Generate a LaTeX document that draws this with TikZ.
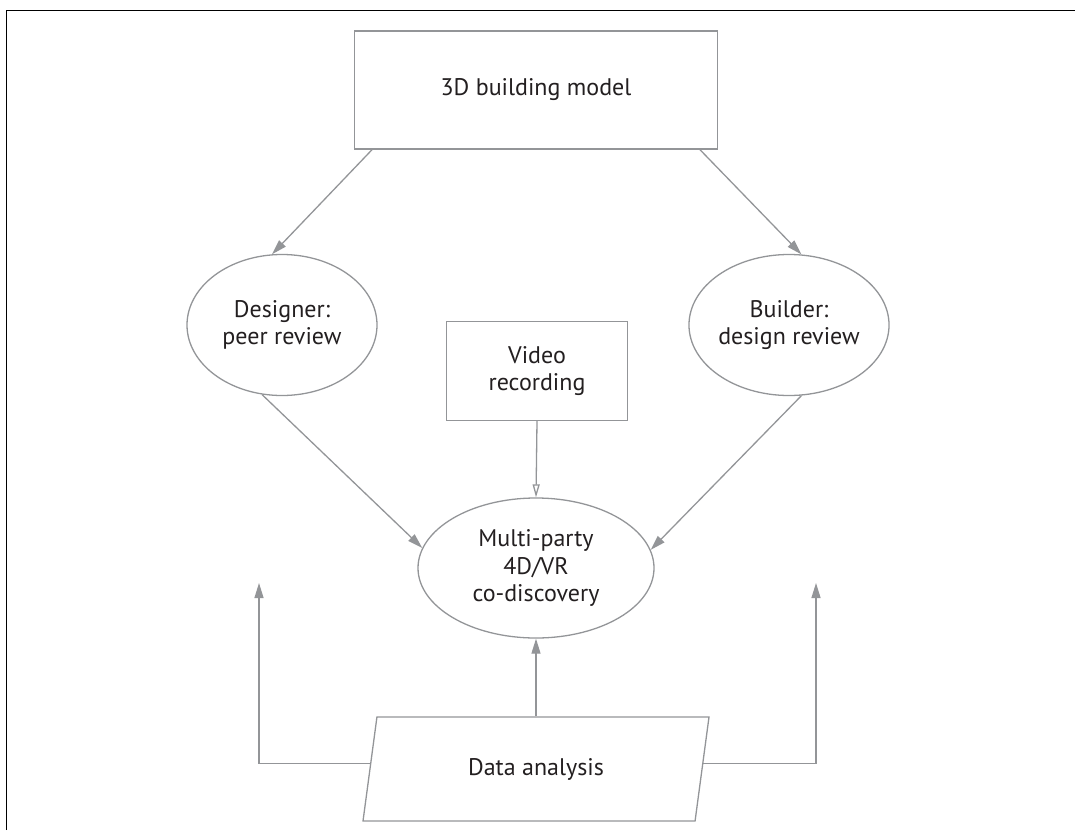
\documentclass[tikz,border=0pt]{standalone}
\usepackage{fontspec}
\setmainfont{PT Sans}
\usepackage{tikz}
\usepackage{xcolor}
\usetikzlibrary{shapes.geometric, positioning, arrows.meta}

\definecolor{linegray}{RGB}{147,149,152}
\definecolor{textdark}{RGB}{35,31,32}

\tikzset{
  box/.style={draw=linegray, line width=1.3pt, rectangle, align=center, text=textdark,
    font=\fontsize{24pt}{27.5pt}\selectfont},
  oval/.style={draw=linegray, line width=1.3pt, ellipse, inner sep=0pt, align=center,
    text=textdark, font=\fontsize{24pt}{27.5pt}\selectfont},
  slanted/.style={draw=linegray, line width=1.3pt, trapezium, trapezium left angle=64,
    trapezium right angle=116, trapezium stretches body, align=center, text=textdark,
    font=\fontsize{24pt}{27.5pt}\selectfont},
  flow/.style={draw=linegray, line width=1.3pt, -{Triangle[length=15pt,width=9pt]}},
  openflow/.style={draw=linegray, line width=1.3pt, -{Triangle[open,length=13pt,width=7pt]}}
}

\begin{document}
\begin{tikzpicture}[x=1pt, y=-1pt]
\useasboundingbox (0,0) rectangle (1075,830);
\draw[black, line width=1pt] (6,830) -- (6,10) -- (1075,10); % frame

\node[box, minimum width=363pt, minimum height=118pt] (model) at (536,90) {3D building model};
\node[oval, minimum width=190pt, minimum height=141pt] (designer) at (282,325) {Designer:\\peer review};
\node[oval, minimum width=190pt, minimum height=141pt] (builder) at (789,325) {Builder:\\design review};
\node[box, minimum width=181pt, minimum height=99pt] (video) at (537,371) {Video\\recording};
\node[oval, minimum width=236pt, minimum height=140pt] (multi) at (536,568) {Multi-party\\4D/VR\\co-discovery};
\node[slanted, minimum width=346pt, minimum height=104pt] (data) at (536,769) {Data analysis};

\coordinate (backleft) at (259,583);
\coordinate (backright) at (816,583);

\draw[flow] (model.200) -- (designer.98);
\draw[flow] (model.-20) -- (builder.80);
\draw[flow] (designer.254) -- (multi.170);
\draw[flow] (builder.280) -- (multi.9);
\draw[openflow] (video.south) -- (multi.north);
\draw[flow] (data.center |- data.north) -- (multi.south);
\draw[flow] (data.178) -| (backleft);
\draw[flow] (data.2) -| (backright);
\end{tikzpicture}
\end{document}
